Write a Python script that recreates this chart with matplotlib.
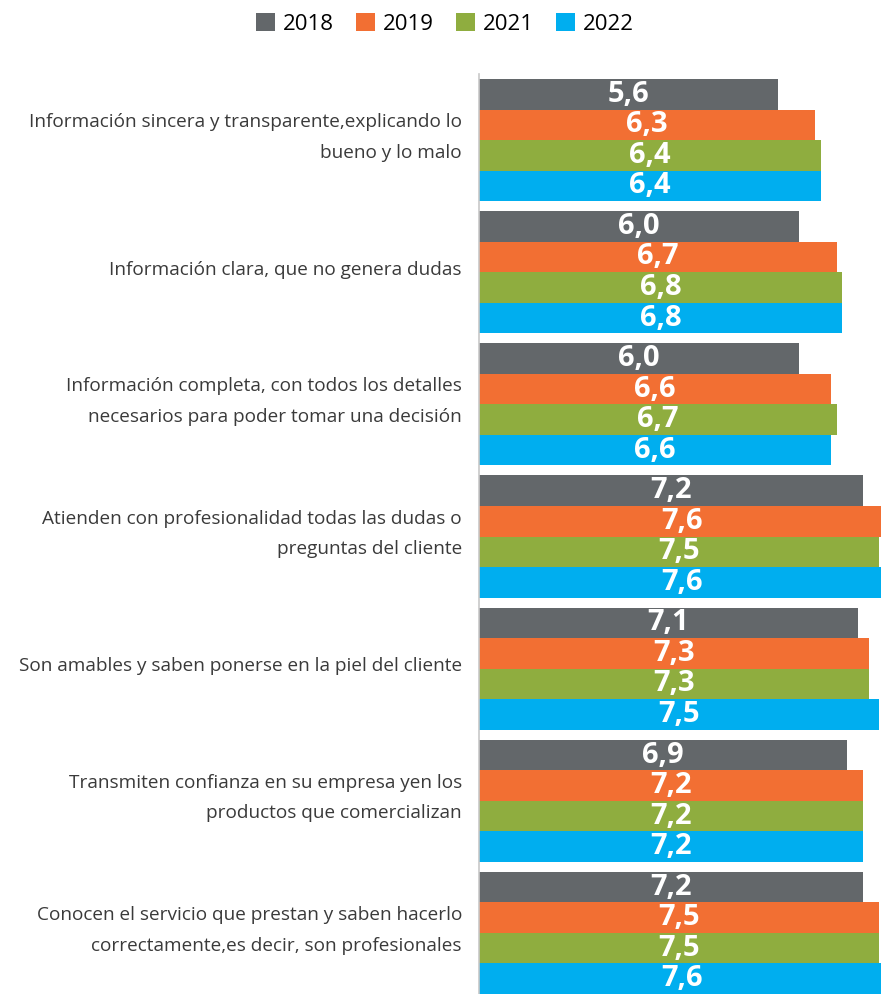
import matplotlib
matplotlib.use("Agg")
import matplotlib.pyplot as plt
import matplotlib.transforms as mtransforms
from matplotlib.patches import Patch
import numpy as np

categories = [
    "Información sincera y transparente,explicando lo\nbueno y lo malo",
    "Información clara, que no genera dudas",
    "Información completa, con todos los detalles\nnecesarios para poder tomar una decisión",
    "Atienden con profesionalidad todas las dudas o\npreguntas del cliente",
    "Son amables y saben ponerse en la piel del cliente",
    "Transmiten confianza en su empresa yen los\nproductos que comercializan",
    "Conocen el servicio que prestan y saben hacerlo\ncorrectamente,es decir, son profesionales",
]
years = ["2018", "2019", "2021", "2022"]
v2018 = [5.6, 6.0, 6.0, 7.2, 7.1, 6.9, 7.2]
v2019 = [6.3, 6.7, 6.6, 7.6, 7.3, 7.2, 7.5]
v2021 = [6.4, 6.8, 6.7, 7.5, 7.3, 7.2, 7.5]
v2022 = [6.4, 6.8, 6.6, 7.6, 7.5, 7.2, 7.6]
series = [v2018, v2019, v2021, v2022]
colors = ["#63676a", "#f26f33", "#8fad3f", "#00aeef"]

W, H = 881, 994
fig = plt.figure(figsize=(W / 100, H / 100), dpi=100)
ax = fig.add_axes([479 / W, 0.0, (W - 479) / W, (994 - 74) / H])

h = 0.231
y = np.arange(len(categories))
for i, (vals, c) in enumerate(zip(series, colors)):
    ypos = y + (i - 1.5) * h
    ax.barh(ypos, vals, height=h, color=c, edgecolor="none", zorder=2)
    for yy, v in zip(ypos, vals):
        ax.text(v / 2, yy, f"{v:.1f}".replace(".", ","), ha="center", va="center",
                color="white", fontsize=21, fontweight="bold", family="Open Sans",
                zorder=3)

ax.set_xlim(0, 7.53)
ax.set_ylim(len(categories) - 1 + 2 * h, -0.5)
ax.set_xticks([])
ax.set_yticks([])
for s in ["top", "right", "bottom"]:
    ax.spines[s].set_visible(False)
ax.spines["left"].set_color("#c8c8c8")
ax.spines["left"].set_linewidth(1.2)

trans = mtransforms.blended_transform_factory(ax.transAxes, ax.transData)
offset = mtransforms.ScaledTranslation(-17 / 100, 0, fig.dpi_scale_trans)
for yy, lab in zip(y, categories):
    ax.text(0, yy - 0.02, lab, transform=trans + offset, ha="right", va="center",
            multialignment="right", fontsize=13.7, color="#3a3a3a",
            family="Open Sans", linespacing=1.9)

handles = [Patch(facecolor=c, edgecolor="none", label=yr) for c, yr in zip(colors, years)]
fig.legend(handles=handles, loc="center", bbox_to_anchor=(445 / W, 1 - 24 / H),
           ncol=4, frameon=False, handlelength=0.85, handleheight=0.85,
           handletextpad=0.35, columnspacing=1.0,
           prop={"family": "Open Sans", "size": 16})

fig.savefig("out.png", dpi=100)
